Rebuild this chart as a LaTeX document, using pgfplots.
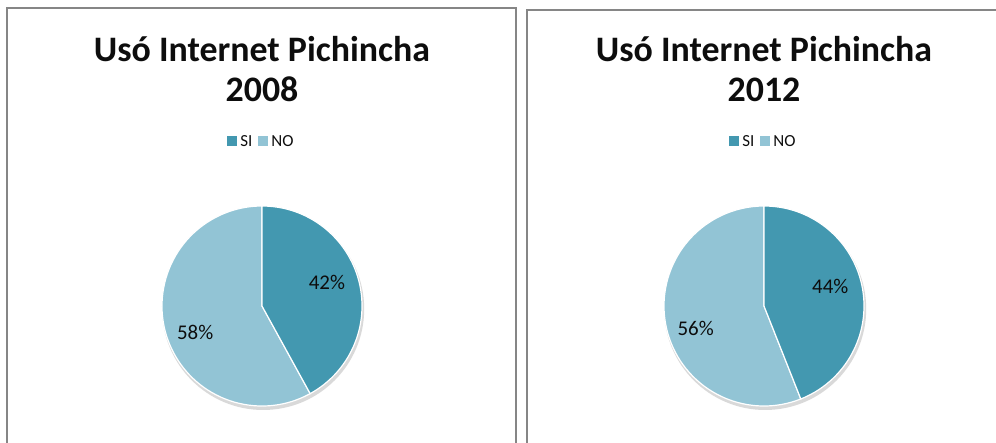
\documentclass[border=0pt]{standalone}
\usepackage{pgfplots}
\pgfplotsset{compat=1.18}
\usepackage{pgfplotstable}
\usepackage{fontspec}
\setmainfont{Carlito}

\definecolor{si}{RGB}{67,152,176}
\definecolor{no}{RGB}{146,196,213}
\definecolor{frame}{RGB}{134,134,134}
\definecolor{ink}{RGB}{13,13,13}

% share of people who used internet, Pichincha
\pgfplotstableread{
resp pct
SI 42
NO 58
}\pichA
\pgfplotstableread{
resp pct
SI 44
NO 56
}\pichB

\pgfplotsset{piestyle/.style={hide axis,x=100bp,y=100bp,
  xmin=-1,xmax=1,ymin=-1,ymax=1,anchor=center,clip=false,
  title style={font=\bfseries\fontsize{36}{40}\selectfont,align=center,
    at={(0.5,1.656)},anchor=center,text=ink},
  legend columns=2,
  legend style={draw=none,fill=none,at={(0.5,1.322)},anchor=center,
    font=\fontsize{17}{19}\selectfont,
    nodes={font=\fontsize{17}{19}\selectfont,text=ink,inner xsep=3bp},
    /tikz/every even column/.append style={column sep=3bp}},
  legend image code/.code={\fill[##1,draw=none] (0bp,-4bp) rectangle (10bp,6bp);}}}

\begin{document}
\begin{tikzpicture}
\useasboundingbox (0,0) rectangle (996bp,443bp);

\pgfplotstablegetelem{0}{pct}\of\pichA \pgfmathtruncatemacro\siA{\pgfplotsretval}
\pgfplotstablegetelem{1}{pct}\of\pichA \pgfmathtruncatemacro\noA{\pgfplotsretval}
\pgfplotstablegetelem{0}{pct}\of\pichB \pgfmathtruncatemacro\siB{\pgfplotsretval}
\pgfplotstablegetelem{1}{pct}\of\pichB \pgfmathtruncatemacro\noB{\pgfplotsretval}
\pgfmathsetmacro\endA{90-3.6*\siA}
\pgfmathsetmacro\endB{90-3.6*\siB}
\pgfmathsetmacro\lsA{90-1.8*\siA+5.5}
\pgfmathsetmacro\lnA{\endA-1.8*\noA+7.5}
\pgfmathsetmacro\lsB{90-1.8*\siB+5.5}
\pgfmathsetmacro\lnB{\endB-1.8*\noB+7.5}

\begin{axis}[piestyle,at={(262bp,137bp)},title={Usó Internet Pichincha\\2008}]
\addlegendimage{fill=si}\addlegendentry{SI}
\addlegendimage{fill=no}\addlegendentry{NO}
\fill[black!15] (axis cs:0.012,-0.03) circle[radius=101bp];
\filldraw[fill=no,draw=white,line width=1.2bp] (axis cs:0,0)
  -- (axis cs:{cos(\endA)},{sin(\endA)}) arc[start angle=\endA,end angle=-270,radius=100bp] -- cycle;
\filldraw[fill=si,draw=white,line width=1.2bp] (axis cs:0,0)
  -- (axis cs:0,1) arc[start angle=90,end angle=\endA,radius=100bp] -- cycle;
\node[font=\fontsize{21}{24}\selectfont,text=ink] at (axis cs:{0.69*cos(\lsA)},{0.69*sin(\lsA)}) {\siA\%};
\node[font=\fontsize{21}{24}\selectfont,text=ink] at (axis cs:{0.72*cos(\lnA)},{0.72*sin(\lnA)}) {\noA\%};
\end{axis}

\begin{axis}[piestyle,at={(764bp,137bp)},title={Usó Internet Pichincha\\2012}]
\addlegendimage{fill=si}\addlegendentry{SI}
\addlegendimage{fill=no}\addlegendentry{NO}
\fill[black!15] (axis cs:0.012,-0.03) circle[radius=101bp];
\filldraw[fill=no,draw=white,line width=1.2bp] (axis cs:0,0)
  -- (axis cs:{cos(\endB)},{sin(\endB)}) arc[start angle=\endB,end angle=-270,radius=100bp] -- cycle;
\filldraw[fill=si,draw=white,line width=1.2bp] (axis cs:0,0)
  -- (axis cs:0,1) arc[start angle=90,end angle=\endB,radius=100bp] -- cycle;
\node[font=\fontsize{21}{24}\selectfont,text=ink] at (axis cs:{0.69*cos(\lsB)},{0.69*sin(\lsB)}) {\siB\%};
\node[font=\fontsize{21}{24}\selectfont,text=ink] at (axis cs:{0.72*cos(\lnB)},{0.72*sin(\lnB)}) {\noB\%};
\end{axis}

% panel frames
\draw[frame,line width=1.3bp] (7bp,-5bp) -- (7bp,435bp) -- (516bp,435bp) -- (516bp,-5bp);
\draw[frame,line width=1.3bp] (527bp,-5bp) -- (527bp,433bp) -- (1005bp,433bp);
\end{tikzpicture}
\end{document}
